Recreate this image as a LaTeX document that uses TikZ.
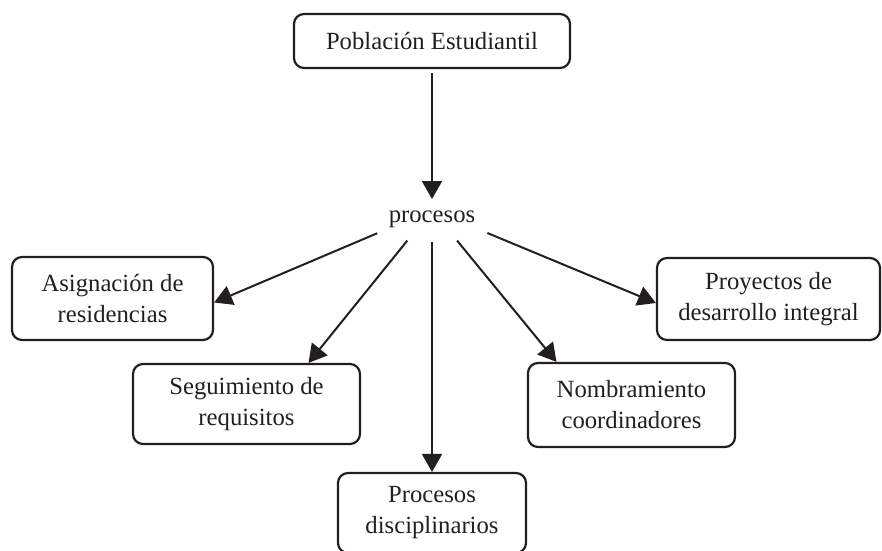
\documentclass[tikz,border=0pt]{standalone}
\usepackage{fontspec}
\setmainfont{Liberation Serif}
\usetikzlibrary{arrows.meta,shapes.geometric,calc}
\definecolor{ink}{HTML}{231F20}
\begin{document}
\begin{tikzpicture}[x=1pt,y=-1pt,
  txt/.style={text=ink, font=\fontsize{24.7}{31}\selectfont},
  box/.style={txt, draw=ink, line width=2.2pt, rounded corners=10pt, align=center, inner sep=0pt},
  arr/.style={draw=ink, line width=2pt, -{Triangle[length=18pt,width=20pt]}}]
\useasboundingbox (0,0) rectangle (882,550);
\node[box, minimum width=276pt, minimum height=54pt] (top) at (432,41) {Población Estudiantil};
\node[txt, ellipse, minimum width=158pt, minimum height=64pt, inner sep=0pt,
      text height=24pt, text depth=0pt] (hub) at (432,210) {procesos};
\node[box, minimum width=201pt, minimum height=83pt] (asig) at (112.5,298.5) {Asignación de\\residencias};
\node[box, minimum width=227pt, minimum height=80pt] (seg) at (246.5,404) {Seguimiento de\\requisitos};
\node[box, minimum width=188pt, minimum height=80pt] (disc) at (432,513) {Procesos\\disciplinarios};
\node[box, minimum width=207pt, minimum height=84pt] (nom) at (631.5,405) {Nombramiento\\coordinadores};
\node[box, minimum width=223pt, minimum height=82pt] (proy) at (768.5,299) {Proyectos de\\desarrollo integral};
\draw[arr, shorten <=4pt, shorten >=11pt] (top) -- (hub.center);
\draw[arr] (hub) -- ($(asig.east)+(0,4)$);
\draw[arr] (hub) -- ($(seg.north)+(62,0)$);
\draw[arr] (hub) -- (disc);
\draw[arr] (hub) -- ($(nom.north)+(-75,0)$);
\draw[arr] (hub) -- ($(proy.west)+(0,4)$);
\end{tikzpicture}
\end{document}
